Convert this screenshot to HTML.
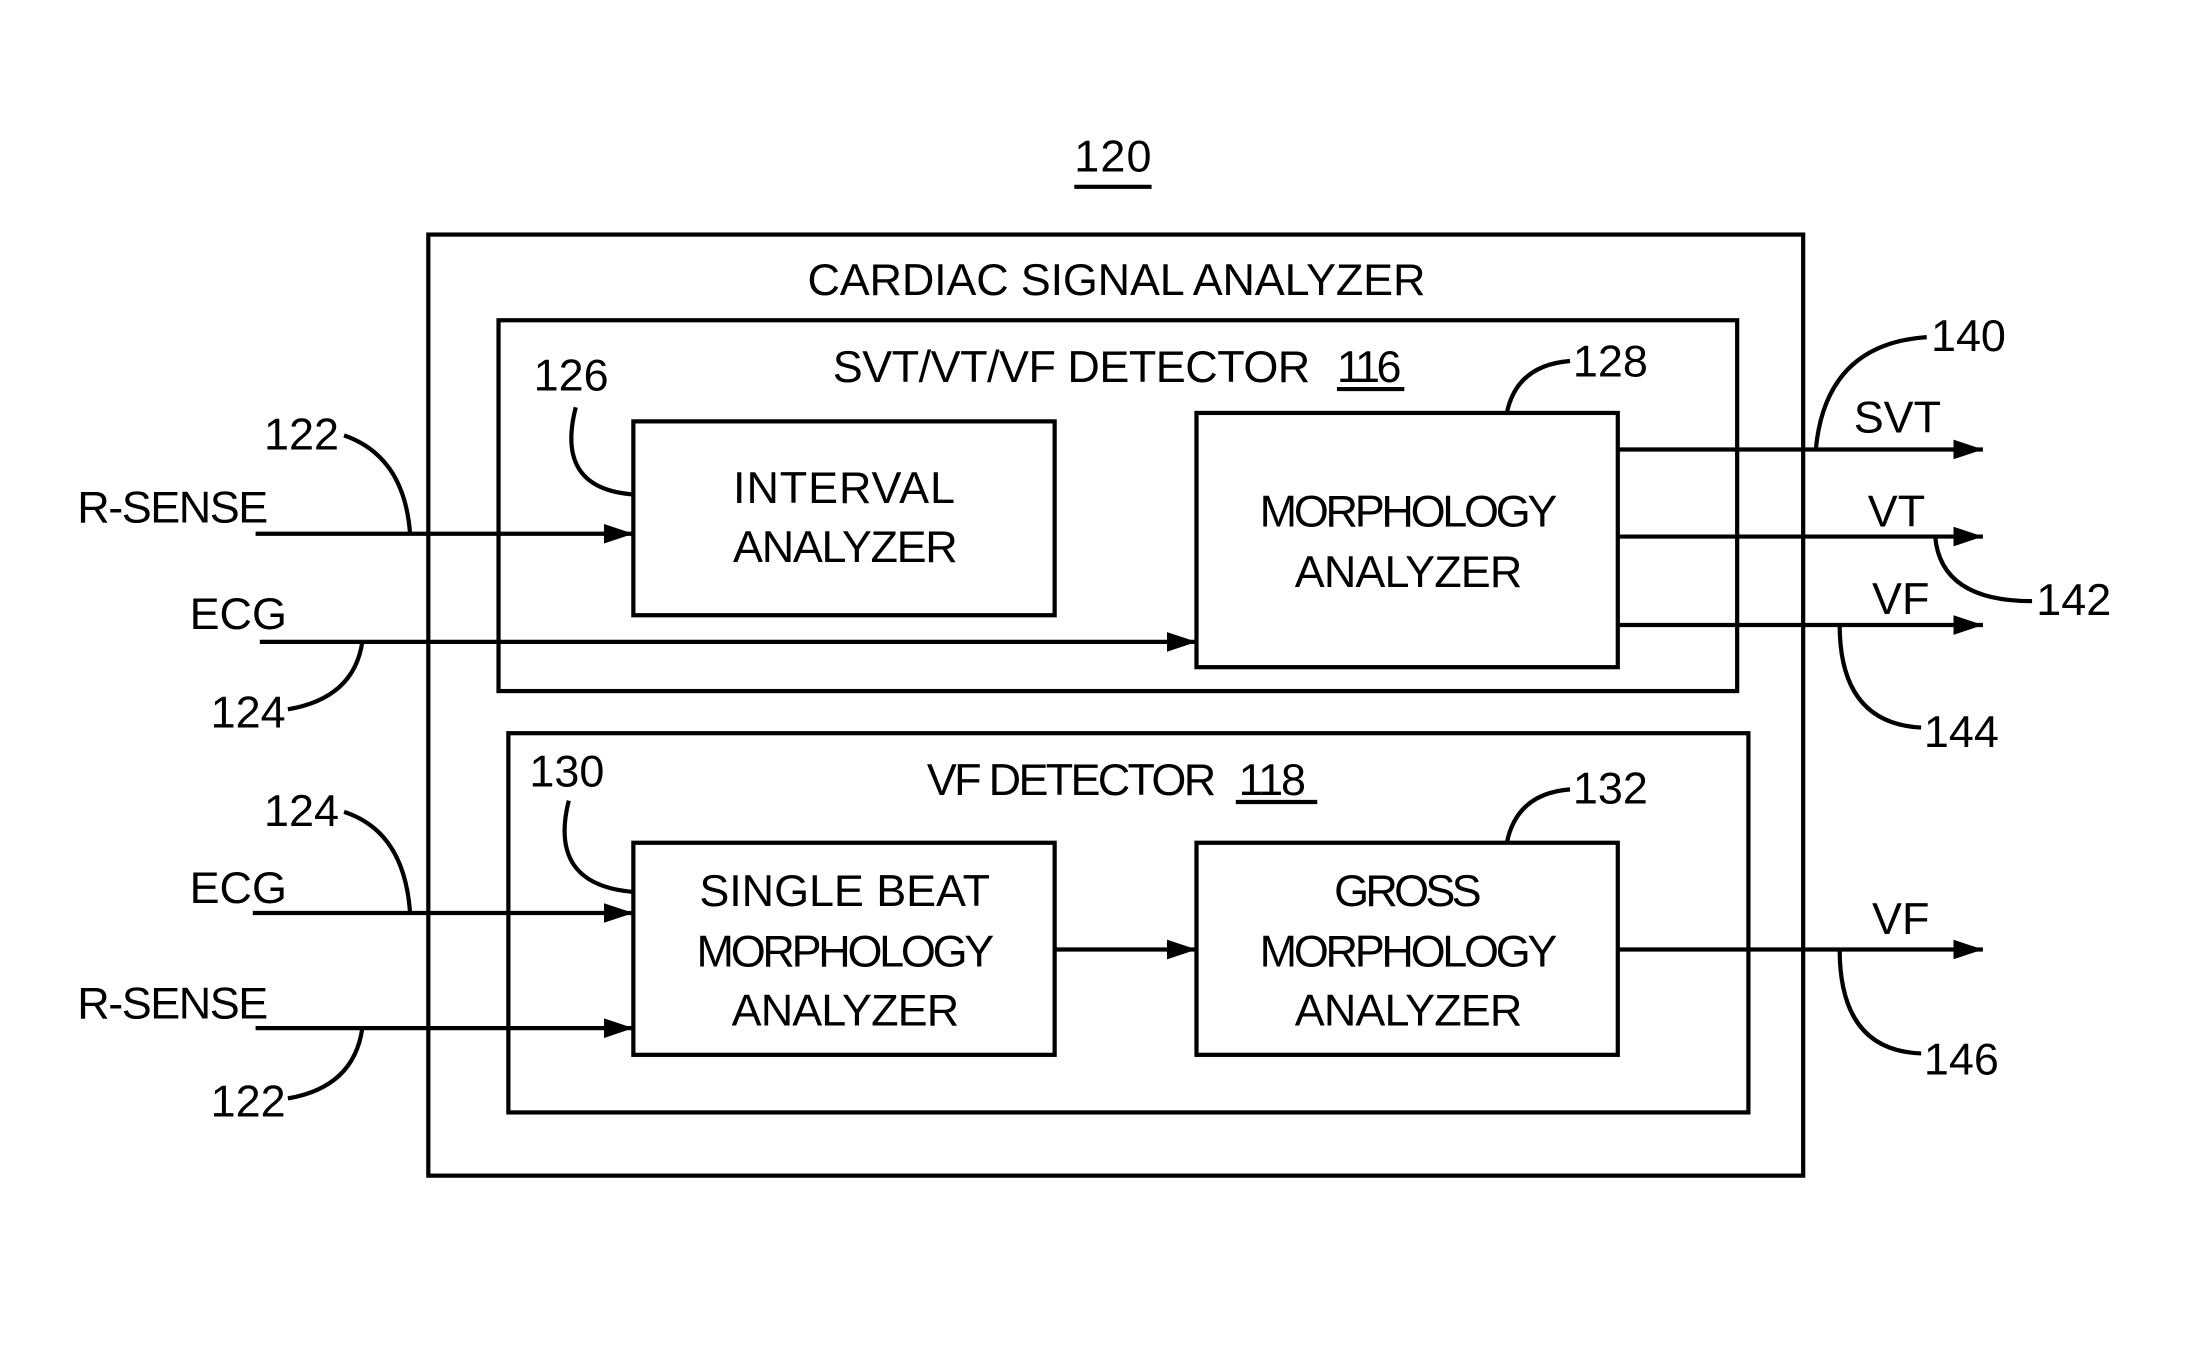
<!DOCTYPE html>
<html><head><meta charset="utf-8"><style>
html,body{margin:0;padding:0;background:#fff;}
svg{display:block}
text{font-family:"Liberation Sans",sans-serif;font-size:32px;fill:#000;}
</style></head><body>
<svg width="2202" height="1347" viewBox="0 0 1568 959" preserveAspectRatio="none" xmlns="http://www.w3.org/2000/svg">
<defs><marker id="a" markerWidth="22" markerHeight="16" refX="21" refY="8" orient="auto" markerUnits="userSpaceOnUse"><path d="M0,1 L21,8 L0,15 Z" fill="#000"/></marker></defs>
<g fill="none" stroke="#000" stroke-width="3">
<rect x="305" y="167" width="979" height="670"/>
<rect x="355" y="228" width="882" height="264"/>
<rect x="451" y="300" width="300" height="138"/>
<rect x="852" y="294" width="300" height="181"/>
<rect x="362" y="522" width="883" height="270"/>
<rect x="451" y="600" width="300" height="151"/>
<rect x="852" y="600" width="300" height="151"/>
<line x1="765" y1="133" x2="820" y2="133"/>
<line x1="952" y1="277" x2="1000" y2="277"/>
<line x1="880" y1="571" x2="938" y2="571"/>
<line x1="182" y1="380" x2="451" y2="380" marker-end="url(#a)"/>
<line x1="185" y1="457" x2="852" y2="457" marker-end="url(#a)"/>
<line x1="1152" y1="320" x2="1412" y2="320" marker-end="url(#a)"/>
<line x1="1152" y1="382" x2="1412" y2="382" marker-end="url(#a)"/>
<line x1="1152" y1="445" x2="1412" y2="445" marker-end="url(#a)"/>
<line x1="180" y1="650" x2="451" y2="650" marker-end="url(#a)"/>
<line x1="182" y1="732" x2="451" y2="732" marker-end="url(#a)"/>
<line x1="751" y1="676" x2="852" y2="676" marker-end="url(#a)"/>
<line x1="1152" y1="676" x2="1412" y2="676" marker-end="url(#a)"/>
<path d="M245,310 Q288,325 292,380"/>
<path d="M205,505 Q252,497 258,457"/>
<path d="M245,578 Q288,592 292,650"/>
<path d="M205,782 Q252,774 258,732"/>
<path d="M410,290 Q395,348 451,352"/>
<path d="M1118,257 Q1080,260 1073,294"/>
<path d="M405,570 Q390,630 451,635"/>
<path d="M1118,562 Q1080,565 1073,600"/>
<path d="M1372,240 Q1300,245 1293,320"/>
<path d="M1447,428 Q1382,428 1378,382"/>
<path d="M1368,518 Q1310,515 1310,445"/>
<path d="M1368,750 Q1310,748 1310,676"/>
</g>
<text x="765" y="122" textLength="55">120</text>
<text x="575" y="210" textLength="440">CARDIAC SIGNAL ANALYZER</text>
<text x="522" y="358" textLength="158">INTERVAL</text>
<text x="522" y="400" textLength="160">ANALYZER</text>
<text x="897" y="375" textLength="212">MORPHOLOGY</text>
<text x="922" y="418" textLength="162">ANALYZER</text>
<text x="498" y="645" textLength="207">SINGLE BEAT</text>
<text x="496" y="688" textLength="212">MORPHOLOGY</text>
<text x="521" y="730" textLength="162">ANALYZER</text>
<text x="950" y="645" textLength="105">GROSS</text>
<text x="897" y="688" textLength="212">MORPHOLOGY</text>
<text x="922" y="730" textLength="162">ANALYZER</text>
<text x="593" y="272" textLength="340">SVT/VT/VF DETECTOR</text>
<text x="952" y="272" textLength="46">116</text>
<text x="660" y="566" textLength="206">VF DETECTOR</text>
<text x="882" y="566" textLength="48">118</text>
<text x="55" y="372" textLength="136">R-SENSE</text>
<text x="135" y="448">ECG</text>
<text x="188" y="320">122</text>
<text x="150" y="518">124</text>
<text x="188" y="588">124</text>
<text x="135" y="643">ECG</text>
<text x="55" y="725" textLength="136">R-SENSE</text>
<text x="150" y="795">122</text>
<text x="380" y="278">126</text>
<text x="1120" y="268">128</text>
<text x="377" y="560">130</text>
<text x="1120" y="572">132</text>
<text x="1320" y="308">SVT</text>
<text x="1330" y="375">VT</text>
<text x="1333" y="437">VF</text>
<text x="1375" y="250">140</text>
<text x="1450" y="438">142</text>
<text x="1370" y="532">144</text>
<text x="1333" y="665">VF</text>
<text x="1370" y="765">146</text>
</svg>
</body></html>
